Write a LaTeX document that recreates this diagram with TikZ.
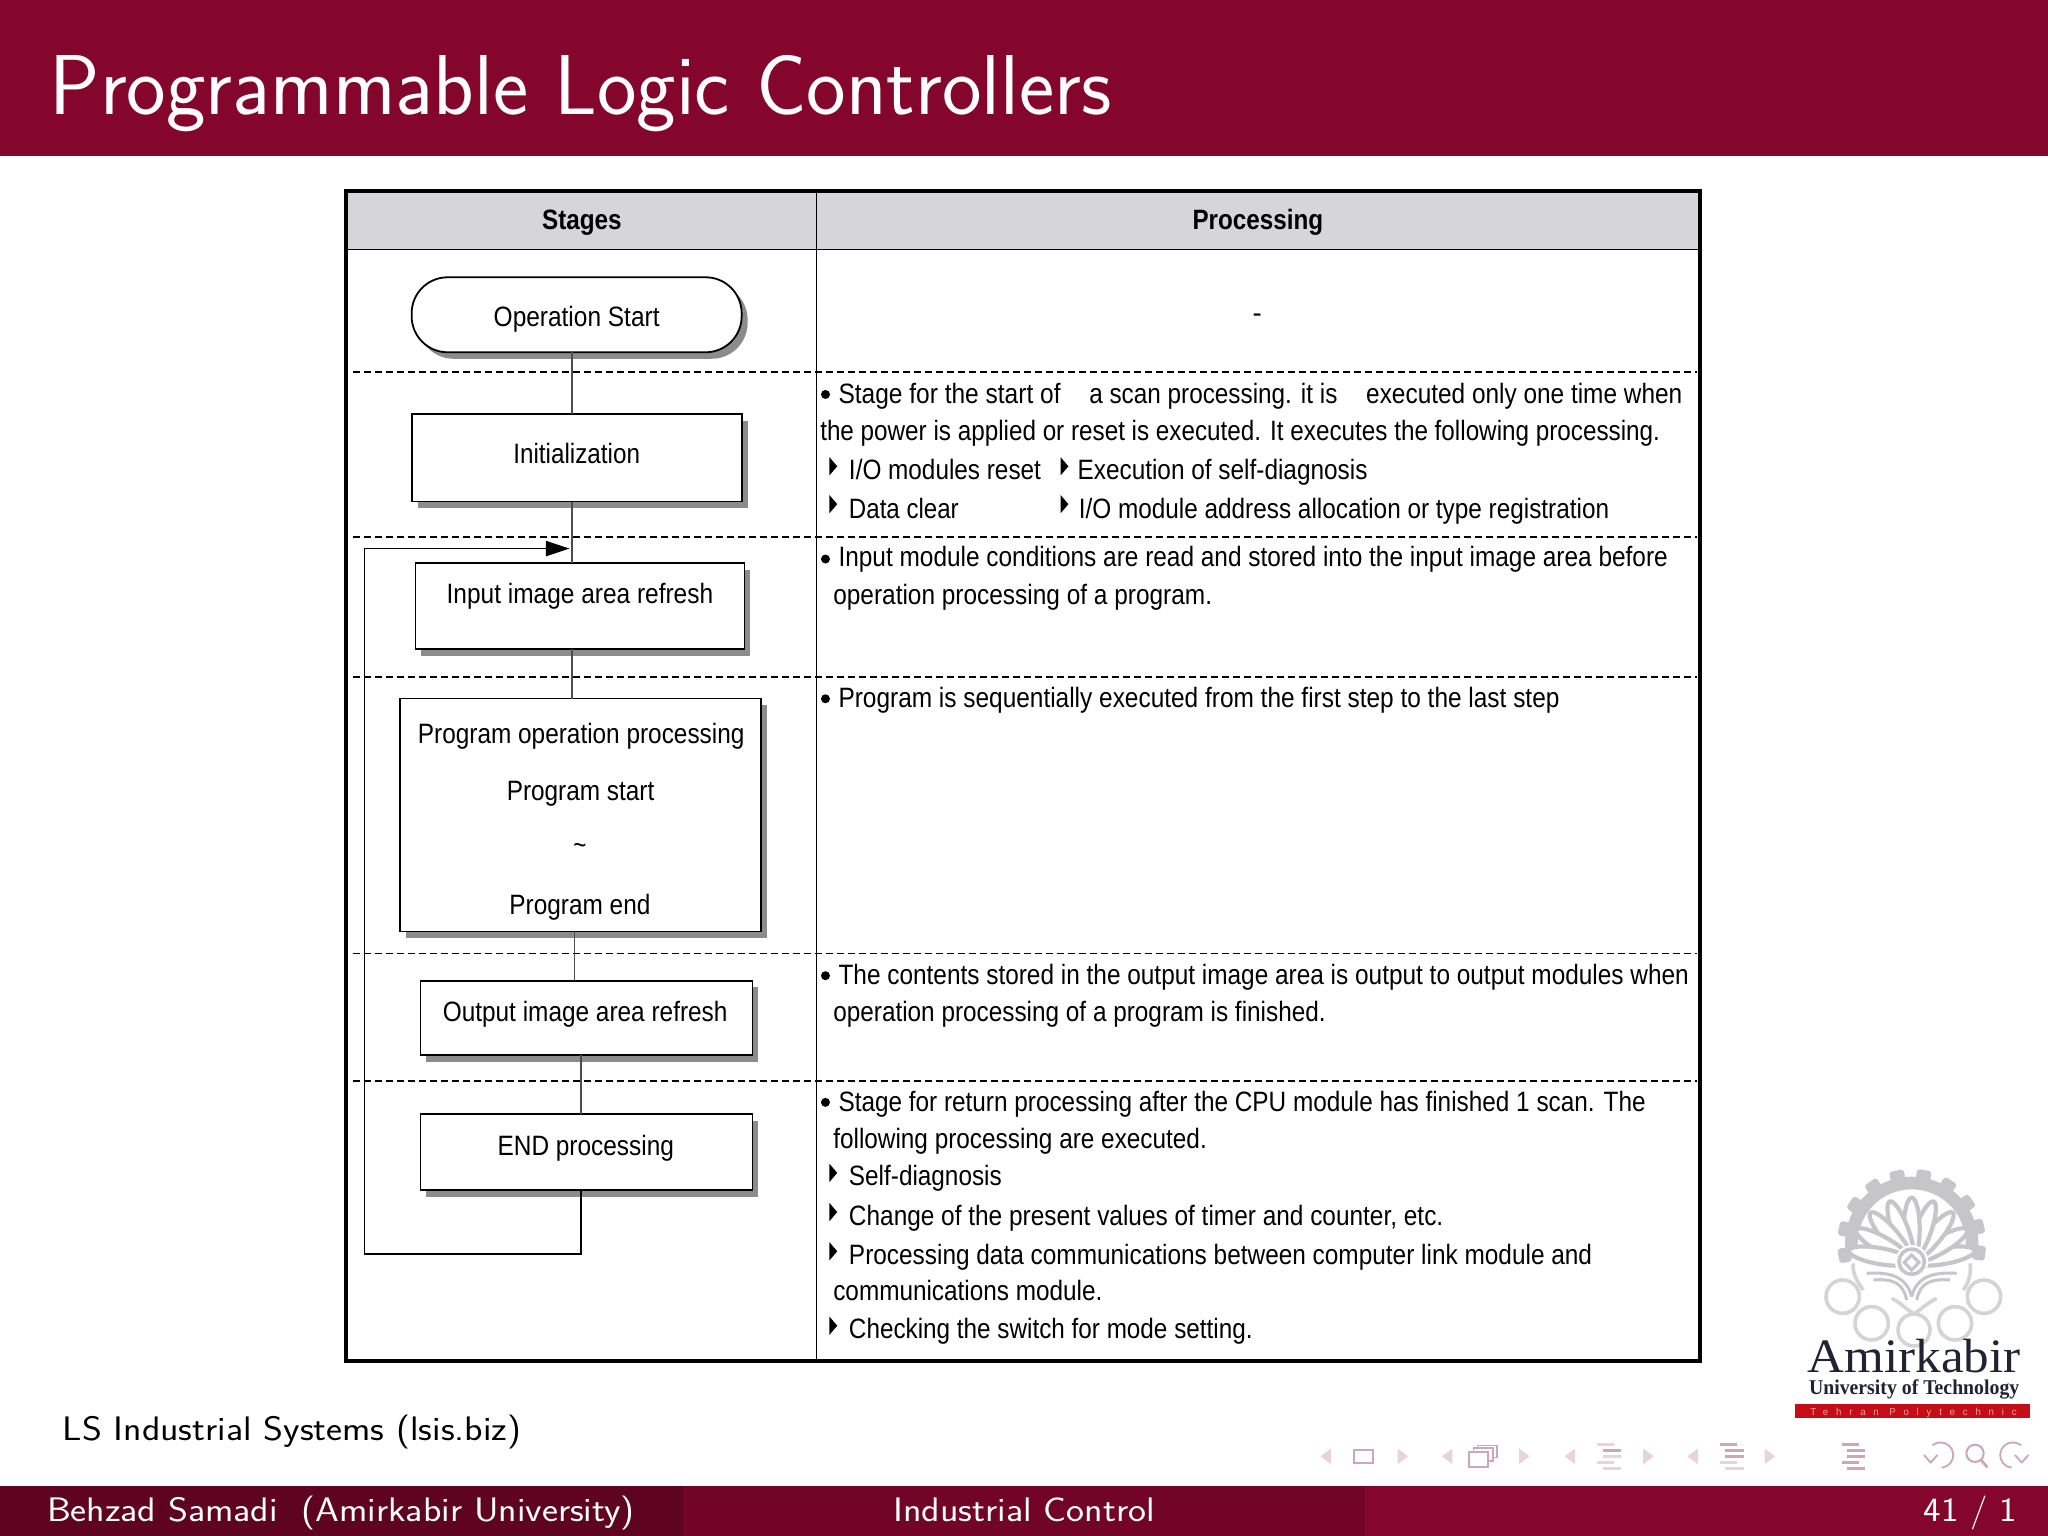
\documentclass[tikz,border=0pt]{standalone}
\usepackage{graphicx}
\usepackage{fontspec}
\usetikzlibrary{shadows,arrows.meta,calc}
\newfontfamily\tabfont{Liberation Sans}
\newfontfamily\logofont{Liberation Serif}
\newfontfamily\barfont[LetterSpace=80]{Liberation Sans}
\definecolor{barmain}{HTML}{85062C}
\definecolor{bardark}{HTML}{5F0420}
\definecolor{barmid}{HTML}{720527}
\definecolor{headgray}{HTML}{D6D6D8}
\definecolor{shadegray}{HTML}{8C8C8E}
\definecolor{navlight}{HTML}{E9D2DB}
\definecolor{navdark}{HTML}{CFA6B6}
\definecolor{gearc}{HTML}{C6C6C8}
\definecolor{ringc}{HTML}{D4D4D4}
\definecolor{logotext}{HTML}{1E2433}
\definecolor{logored}{HTML}{C40D16}
\definecolor{logopink}{HTML}{F0A0A0}
% name, x0, x1, baseline, font, text (reference coordinates at 1568 wide)
\newcommand{\tl}[6]{%
  \pgfmathsetlengthmacro{\tlw}{(#3-#2)*1.30612pt}%
  \node[anchor=base west,inner sep=0pt,outer sep=0pt] (#1) at (#2,#4) {\resizebox{\tlw}{\height}{#5#6}};}
\newcommand{\tfs}{\tabfont\fontsize{28}{30}\selectfont}
\newcommand{\tfb}{\tabfont\bfseries\fontsize{28}{30}\selectfont}
\newcommand{\sfs}{\sffamily\fontsize{34}{36}\selectfont}
\newcommand{\tri}[2]{\fill (#1-3,#2-7) -- (#1+3,#2) -- (#1-3,#2+7) -- cycle;}
\newcommand{\bul}[2]{\fill (#1,#2) circle[radius=4.5pt];}
\newcommand{\navL}[2]{\fill[#2] (#1+4,1109) -- (#1-4,1115) -- (#1+4,1121) -- cycle;}
\newcommand{\navR}[2]{\fill[#2] (#1-4,1109) -- (#1+4,1115) -- (#1-4,1121) -- cycle;}
\newcommand{\navbars}[6]{%
  \draw[line width=3pt,#2] (#1-9,1106) -- (#1+4,1106);
  \draw[line width=3pt,#3] (#1-5,1110.5) -- (#1+9,1110.5);
  \draw[line width=3pt,#4] (#1-5,1115) -- (#1+9,1115);
  \draw[line width=3pt,#5] (#1-9,1119.5) -- (#1+4,1119.5);
  \draw[line width=3pt,#6] (#1-5,1124) -- (#1+9,1124);}
\tikzset{
  x=1.30612pt,y=-1.30612pt,
  stagebox/.style={draw=black,line width=1.8pt,fill=white,inner sep=0pt,outer sep=0pt,
    general shadow={fill=shadegray,shadow xshift=6pt,shadow yshift=-6.5pt}},
  startbox/.style={stagebox,rounded corners=36pt},
  link/.style={draw=black!70,line width=1.5pt},
  feedback/.style={draw=black,line width=1.5pt},
  rowline/.style={draw=black,line width=1.6pt,dash pattern=on 7pt off 4pt},
  tablerule/.style={draw=black,line width=1.5pt},
}
\begin{document}
\begin{tikzpicture}
\useasboundingbox (0,0) rectangle (1568,1176);
\fill[white] (0,0) rectangle (1568,1176);
% bars
\fill[barmain] (0,0) rectangle (1568,119.5);
\fill[barmain] (0,1138) rectangle (1568,1176);
\fill[bardark] (0,1138) rectangle (523,1176);
\fill[barmid] (523,1138) rectangle (1045,1176);
\tl{title}{38}{851}{88}{\color{white}\sffamily\fontsize{85}{90}\selectfont}{Programmable Logic Controllers}
\tl{footA}{36}{486}{1165}{\color{white}\sfs}{Behzad Samadi\ \ (Amirkabir University)}
\tl{footB}{684}{884}{1165}{\color{white}\sfs}{Industrial Control}
\tl{footC}{1473}{1544}{1165}{\color{white}\sfs}{41 / 1}
\tl{source}{48}{399}{1103}{\sfs}{LS Industrial Systems (lsis.biz)}
% table
\fill[headgray] (265,146) rectangle (1300,191);
\draw[tablerule] (265,191) -- (1300,191);
\draw[tablerule] (625,146) -- (625,1041);
\foreach \ry in {285,411,518.5,730,827.5} {\draw[rowline] (270,\ry) -- (1299,\ry);}
\draw[draw=black,line width=4pt] (265,146) rectangle (1301.5,1042);
\tl{stagesh}{415}{476}{176}{\tfb}{Stages}
\tl{processh}{913}{1013}{176}{\tfb}{Processing}
\tl{dashcell}{959}{966}{247}{\tfs}{-}
% flow nodes
\coordinate (spine) at (438,0);
\coordinate (spineB) at (440,0);
\coordinate (spineC) at (445,0);
\coordinate (loopx) at (279,0);
\node[startbox,minimum width=330pt,minimum height=75pt] (start) at (441.5,241) {};
\node[stagebox,minimum width=330pt,minimum height=87.5pt] (init) at (441.5,350.5) {};
\node[stagebox,minimum width=329pt,minimum height=86pt] (input) at (444,464) {};
\node[stagebox,minimum width=361pt,minimum height=233pt] (prog) at (444.5,624) {};
\node[stagebox,minimum width=332pt,minimum height=74.5pt] (output) at (449,779.5) {};
\node[stagebox,minimum width=332pt,minimum height=76pt] (endp) at (449,882) {};
\coordinate (loopbot) at (445,960);
\coordinate (looptop) at (436,420);
\draw[link] (start.south -| spine) -- (init.north -| spine);
\draw[link] (init.south -| spine) -- (input.north -| spine);
\draw[link] (input.south -| spine) -- (prog.north -| spine);
\draw[link] (prog.south -| spineB) -- (output.north -| spineB);
\draw[link] (output.south -| spineC) -- (endp.north -| spineC);
\draw[feedback] (endp.south -| spineC) -- (loopbot) -- (loopbot -| loopx) -- (loopx |- looptop);
\draw[feedback] (loopx |- looptop) -- (looptop);
\fill (looptop) -- ++(-18,-6) -- ++(0,12) -- cycle;
\tl{tStart}{378}{505}{250}{\tfs}{Operation Start}
\tl{tInit}{393}{490}{355}{\tfs}{Initialization}
\tl{tInput}{342}{546}{462}{\tfs}{Input image area refresh}
\tl{tProgA}{320}{570}{569}{\tfs}{Program operation processing}
\tl{tProgB}{388}{501}{613}{\tfs}{Program start}
\tl{tProgC}{439}{449}{654}{\tfs}{\textasciitilde}
\tl{tProgD}{390}{498}{700}{\tfs}{Program end}
\tl{tOutput}{339}{557}{782}{\tfs}{Output image area refresh}
\tl{tEnd}{381}{516}{885}{\tfs}{END processing}
% processing text
\bul{632}{302}
\tl{pA}{642}{812}{309}{\tfs}{Stage for the start of}
\tl{pB}{834}{1024}{309}{\tfs}{a scan processing. it is}
\tl{pC}{1046}{1288}{309}{\tfs}{executed only one time when}
\tl{pD}{628}{1271}{337}{\tfs}{the power is applied or reset is executed. It executes the following processing.}
\tri{638}{357}
\tl{pE}{650}{797}{367}{\tfs}{I/O modules reset}
\tri{815}{357}
\tl{pF}{825}{1047}{367}{\tfs}{Execution of self-diagnosis}
\tri{638}{386}
\tl{pG}{650}{734}{397}{\tfs}{Data clear}
\tri{815}{386}
\tl{pH}{826}{1232}{397}{\tfs}{I/O module address allocation or type registration}
\bul{632}{428}
\tl{pI}{642}{1277}{434}{\tfs}{Input module conditions are read and stored into the input image area before}
\tl{pJ}{638}{928}{463}{\tfs}{operation processing of a program.}
\bul{632}{535}
\tl{pK}{642}{1194}{542}{\tfs}{Program is sequentially executed from the first step to the last step}
\bul{632}{747}
\tl{pL}{642}{1293}{754}{\tfs}{The contents stored in the output image area is output to output modules when}
\tl{pM}{638}{1015}{782}{\tfs}{operation processing of a program is finished.}
\bul{632}{844}
\tl{pN}{642}{1260}{851}{\tfs}{Stage for return processing after the CPU module has finished 1 scan. The}
\tl{pO}{638}{924}{879}{\tfs}{following processing are executed.}
\tri{638}{898}
\tl{pP}{650}{767}{908}{\tfs}{Self-diagnosis}
\tri{638}{928}
\tl{pQ}{650}{1105}{938}{\tfs}{Change of the present values of timer and counter, etc.}
\tri{638}{958}
\tl{pR}{650}{1219}{968}{\tfs}{Processing data communications between computer link module and}
\tl{pS}{638}{844}{996}{\tfs}{communications module.}
\tri{638}{1015}
\tl{pT}{650}{959}{1025}{\tfs}{Checking the switch for mode setting.}
% logo emblem
\begin{scope}[shift={(1720pt,-1140pt)},x=0.33333pt,y=0.33333pt]
  \fill[gearc] (575,-310) ++(-12:200) arc[start angle=-12,end angle=192,radius=200]
     -- ++(192:-38) arc[start angle=192,end angle=-12,radius=162] -- cycle;
  \foreach \a in {-8,14,36,58,80,102,124,146,168,190}
    {\fill[gearc,rounded corners=3pt,rotate around={\a:(575,-310)}] (760,-332) rectangle (798,-288);}
  \foreach \a in {10,30,...,170}
    {\draw[gearc,line width=4.2pt,fill=white,rotate around={\a:(575,-365)}] (672,-365) ellipse[x radius=95,y radius=24];}
  \fill[white] (575,-365) circle[radius=50];
  \draw[gearc,line width=3.6pt] (575,-365) circle[radius=38];
  \draw[gearc,line width=3.2pt] (575,-345) -- (597,-367) -- (575,-390) -- (553,-367) -- cycle;
  \draw[gearc,line width=3pt] (440,-400) .. controls (510,-395) and (560,-410) .. (575,-470);
  \draw[gearc,line width=3pt] (710,-400) .. controls (640,-395) and (590,-410) .. (575,-470);
  \draw[gearc,line width=3pt] (460,-420) .. controls (520,-415) and (550,-430) .. (560,-480);
  \draw[gearc,line width=3pt] (690,-420) .. controls (630,-415) and (600,-430) .. (590,-480);
  \foreach \cx/\cy/\r in {368/470/50,455/550/50,582/570/48,705/550/50,792/470/50}
    {\draw[ringc,line width=3.6pt] (\cx,-\cy) circle[radius=\r];}
  \draw[ringc,line width=3.6pt] (400,-370) .. controls (395,-400) and (415,-430) .. (430,-450);
  \draw[ringc,line width=3.6pt] (750,-370) .. controls (755,-400) and (745,-430) .. (730,-450);
  \draw[ringc,line width=3.6pt] (515,-475) .. controls (545,-490) and (560,-510) .. (580,-520);
  \draw[ringc,line width=3.6pt] (650,-475) .. controls (620,-490) and (600,-510) .. (585,-520);
  % view controls
  \draw[navdark,line width=1.8pt] (665,-983) arc[start angle=-85,end angle=130,radius=38];
  \draw[navdark,line width=1.8pt,line join=round] (612,-945) -- (632,-968) -- (652,-945);
  \draw[navdark,line width=2pt] (765,-940) circle[radius=26];
  \draw[navdark,line width=2.8pt] (783,-960) -- (802,-982);
  \draw[navdark,line width=1.8pt] (875,-983) arc[start angle=265,end angle=50,radius=38];
  \draw[navdark,line width=1.8pt,line join=round] (885,-945) -- (905,-968) -- (925,-945);
\end{scope}
% logo lettering
\tl{logoA}{1384}{1547}{1051}{\color{logotext}\logofont\fontsize{48}{50}\selectfont}{Amirkabir}
\tl{logoB}{1385}{1546}{1068}{\color{logotext}\logofont\bfseries\fontsize{21}{22}\selectfont}{University of Technology}
\fill[logored] (1374,1075) rectangle (1554,1086);
\tl{logoC}{1386}{1544}{1084}{\color{logopink}\barfont\fontsize{10}{11}\selectfont}{Tehran Polytechnic}
% beamer navigation
\navL{1015}{navlight}\navR{1074}{navlight}
\draw[navdark,line width=2pt] (1037,1110) rectangle (1051.5,1120);
\navL{1108}{navlight}\navR{1167}{navlight}
\draw[navdark,line width=1.4pt] (1131,1106.5) rectangle (1146,1116);
\draw[navdark,line width=1.4pt,fill=white] (1128,1108.5) rectangle (1143,1118.5);
\draw[navdark,line width=2pt,fill=white] (1125,1112) rectangle (1139,1123);
\navL{1202}{navlight}\navR{1262}{navlight}
\navbars{1232}{navlight}{navdark}{navlight}{navlight}{navlight}
\navL{1296}{navlight}\navR{1355}{navlight}
\navbars{1326}{navdark}{navdark}{navdark}{navlight}{navlight}
\navbars{1419}{navdark}{navdark}{navdark}{navdark}{navdark}
\end{tikzpicture}
\end{document}
